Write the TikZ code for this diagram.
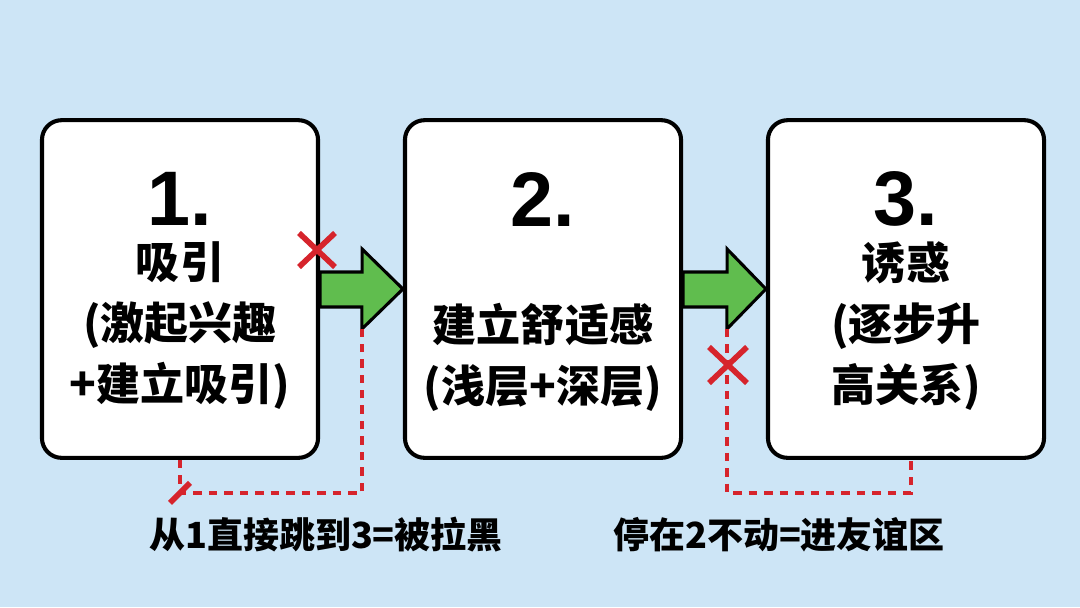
\documentclass[tikz,border=0pt]{standalone}
\usepackage{fontspec}
\usetikzlibrary{calc}
\newfontfamily\cjk{Noto Sans CJK SC}
\newfontfamily\numfont{Liberation Sans}
\definecolor{bgblue}{RGB}{205,229,246}
\definecolor{stepgreen}{RGB}{96,189,78}
\definecolor{warnred}{RGB}{214,36,44}

\begin{document}
\begin{tikzpicture}[x=0.025cm, y=-0.025cm,
        stagebox/.style={draw=black, line width=2.9pt, fill=white, rounded corners=14pt,
            minimum width=6.9cm, minimum height=8.44cm},
        stagenum/.style={font=\numfont\bfseries\fontsize{55}{55}\selectfont},
        stagetext/.style={font=\cjk\bfseries\fontsize{31.3}{43.4}\selectfont, align=center},
        notetext/.style={font=\cjk\bfseries\fontsize{25.6}{30}\selectfont},
        blockarrow/.style={fill=stepgreen, draw=black, line width=2.2pt},
        reddash/.style={draw=warnred, line width=2.7pt, dash pattern=on 6pt off 5pt},
        crossline/.style={draw=warnred, line width=4pt}]

        % Background
        \fill[bgblue] (0,0) rectangle (1080,607);

        % Stage 1
        \node[stagebox] (box1) at (180,289) {};
        \node[stagenum] (num1) at (180,199) {1.};
        \node[stagetext] (txt1) at (180,326) {吸引\\(激起兴趣\\+建立吸引)};

        % Stage 2
        \node[stagebox] (box2) at (543,289) {};
        \node[stagenum] (num2) at (543,199) {2.};
        \node[stagetext] (txt2) at (543,357) {建立舒适感\\(浅层+深层)};

        % Stage 3
        \node[stagebox] (box3) at (906,289) {};
        \node[stagenum] (num3) at (906,199) {3.};
        \node[stagetext] (txt3) at (906,326) {诱惑\\(逐步升\\高关系)};

        % Green arrows between the stages
        \draw[blockarrow] ($(box1.east)+(0,-17)$) -- ++(42,0) -- ++(0,-23) -- (box2.west)
            -- ++(-41,40) coordinate (tip1) -- ++(0,-22) -- ($(box1.east)+(0,18)$) -- cycle;
        \draw[blockarrow] ($(box2.east)+(0,-17)$) -- ++(44,0) -- ++(0,-23) -- (box3.west)
            -- ++(-39,40) coordinate (tip2) -- ++(0,-22) -- ($(box2.east)+(0,18)$) -- cycle;

        % Skipping from 1 to 3
        \draw[reddash] (box1.south) -- ++(0,33) coordinate (c1) -| (tip1);
        \draw[crossline] ($(c1)+(-10,10)$) -- ($(c1)+(10,-10)$);
        \node[notetext] (note1) at (326,535) {从1直接跳到3=被拉黑};

        % Staying at 2
        \draw[reddash] (tip2) -- (tip2 |- c1) -| ($(box3.south)+(5,0)$);
        \node[notetext] (note2) at (779,535) {停在2不动=进友谊区};

        % Red crosses
        \coordinate (x1) at (317,250);
        \coordinate (x2) at (728,365);
        \draw[crossline] ($(x1)+(-18,-17)$) -- ($(x1)+(18,17)$);
        \draw[crossline] ($(x1)+(-18,17)$) -- ($(x1)+(18,-17)$);
        \draw[crossline] ($(x2)+(-19,-18)$) -- ($(x2)+(19,18)$);
        \draw[crossline] ($(x2)+(-19,18)$) -- ($(x2)+(19,-18)$);
    \end{tikzpicture}
\end{document}
